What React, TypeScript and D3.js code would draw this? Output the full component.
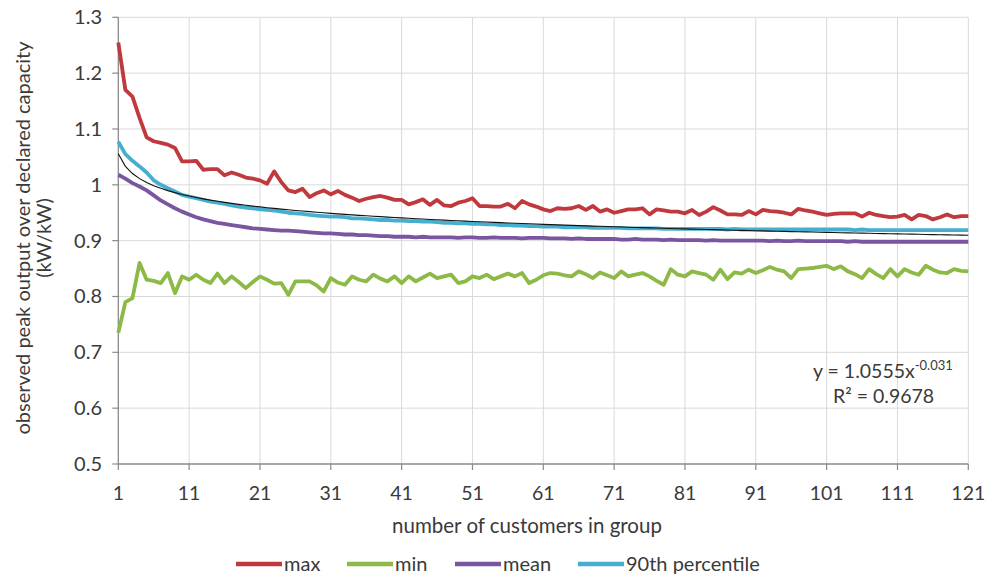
import React from "react";
import * as d3 from "d3";

const categories: number[] = d3.range(1, 122);

const maxSeries: number[] = [
  1.255, 1.17, 1.158, 1.12, 1.085, 1.078, 1.075, 1.072, 1.066, 1.042,
  1.042, 1.043, 1.027, 1.028, 1.028, 1.017, 1.022, 1.018, 1.013, 1.011,
  1.008, 1.002, 1.024, 1.005, 0.99, 0.987, 0.993, 0.978, 0.985, 0.99,
  0.983, 0.989, 0.982, 0.977, 0.971, 0.975, 0.978, 0.98, 0.977, 0.973,
  0.973, 0.965, 0.969, 0.974, 0.964, 0.973, 0.963, 0.962, 0.968, 0.971,
  0.976, 0.962, 0.962, 0.961, 0.961, 0.966, 0.958, 0.971, 0.965, 0.961,
  0.956, 0.953, 0.958, 0.957, 0.958, 0.962, 0.955, 0.962, 0.952, 0.956,
  0.95, 0.953, 0.956, 0.956, 0.958, 0.947, 0.956, 0.954, 0.952, 0.952,
  0.949, 0.955, 0.946, 0.952, 0.96, 0.954, 0.947, 0.947, 0.946, 0.953,
  0.947, 0.955, 0.953, 0.952, 0.95, 0.947, 0.957, 0.954, 0.952, 0.949,
  0.946, 0.948, 0.949, 0.949, 0.949, 0.943, 0.95, 0.946, 0.944, 0.942,
  0.943, 0.946, 0.938, 0.946, 0.944, 0.938, 0.942, 0.947, 0.942, 0.944,
  0.944,
];

const minSeries: number[] = [
  0.735, 0.79, 0.797, 0.86, 0.83, 0.828, 0.824, 0.842, 0.806, 0.836,
  0.83, 0.839, 0.83, 0.824, 0.841, 0.824, 0.836, 0.826, 0.815, 0.826,
  0.836, 0.83, 0.823, 0.824, 0.803, 0.827, 0.827, 0.827, 0.82, 0.809,
  0.833, 0.825, 0.821, 0.836, 0.83, 0.827, 0.839, 0.832, 0.827, 0.836,
  0.824, 0.836, 0.827, 0.834, 0.841, 0.833, 0.836, 0.839, 0.824, 0.827,
  0.836, 0.833, 0.839, 0.831, 0.836, 0.841, 0.836, 0.842, 0.824, 0.83,
  0.838, 0.842, 0.841, 0.838, 0.836, 0.845, 0.84, 0.833, 0.843, 0.838,
  0.833, 0.845, 0.836, 0.839, 0.842, 0.836, 0.828, 0.821, 0.849, 0.839,
  0.836, 0.845, 0.842, 0.839, 0.83, 0.848, 0.831, 0.843, 0.841, 0.848,
  0.842, 0.847, 0.853, 0.848, 0.845, 0.833, 0.849, 0.85, 0.851, 0.853,
  0.855, 0.849, 0.854, 0.845, 0.84, 0.833, 0.849, 0.84, 0.833, 0.849,
  0.836, 0.849, 0.843, 0.839, 0.855, 0.848, 0.843, 0.842, 0.849, 0.846,
  0.845,
];

const meanSeries: number[] = [
  1.018, 1.011, 1.003, 0.997, 0.99, 0.981, 0.972, 0.965, 0.958, 0.952,
  0.947, 0.942, 0.938, 0.935, 0.932, 0.93, 0.928, 0.926, 0.924, 0.922,
  0.921, 0.92, 0.919, 0.918, 0.918, 0.917, 0.916, 0.915, 0.914, 0.913,
  0.913, 0.912, 0.911, 0.911, 0.91, 0.91, 0.909, 0.908, 0.908, 0.907,
  0.907, 0.907, 0.906, 0.907, 0.906, 0.906, 0.906, 0.906, 0.905, 0.906,
  0.906, 0.905, 0.905, 0.906, 0.905, 0.905, 0.905, 0.904, 0.905, 0.905,
  0.905, 0.904, 0.904, 0.904, 0.903, 0.904, 0.903, 0.903, 0.903, 0.903,
  0.903, 0.902, 0.902, 0.903, 0.902, 0.902, 0.902, 0.901, 0.902, 0.901,
  0.901, 0.901, 0.901, 0.9, 0.901, 0.9, 0.9, 0.9, 0.9, 0.9,
  0.9, 0.9, 0.899, 0.9, 0.899, 0.899, 0.9, 0.899, 0.899, 0.899,
  0.899, 0.899, 0.899, 0.898, 0.899, 0.898, 0.898, 0.898, 0.898, 0.898,
  0.898, 0.898, 0.898, 0.898, 0.898, 0.898, 0.898, 0.898, 0.898, 0.898,
  0.898,
];

const p90Series: number[] = [
  1.077, 1.055, 1.043, 1.033, 1.022, 1.008, 1.0, 0.994, 0.988, 0.982,
  0.979, 0.976, 0.973, 0.97, 0.968, 0.966, 0.963, 0.961, 0.959, 0.958,
  0.956, 0.955, 0.954, 0.952, 0.95, 0.949, 0.948, 0.946, 0.945, 0.944,
  0.943, 0.943, 0.942, 0.94, 0.94, 0.939, 0.938, 0.937, 0.937, 0.936,
  0.936, 0.935, 0.935, 0.934, 0.934, 0.933, 0.932, 0.932, 0.931, 0.931,
  0.93, 0.93, 0.929, 0.929, 0.928, 0.928, 0.927, 0.927, 0.926, 0.926,
  0.925, 0.925, 0.925, 0.924, 0.924, 0.924, 0.924, 0.923, 0.923, 0.923,
  0.923, 0.923, 0.922, 0.922, 0.922, 0.922, 0.922, 0.921, 0.921, 0.921,
  0.921, 0.921, 0.921, 0.921, 0.921, 0.921, 0.92, 0.921, 0.92, 0.92,
  0.92, 0.92, 0.92, 0.92, 0.92, 0.92, 0.92, 0.92, 0.92, 0.92,
  0.92, 0.92, 0.92, 0.92, 0.919, 0.92, 0.919, 0.919, 0.919, 0.919,
  0.919, 0.919, 0.919, 0.919, 0.919, 0.919, 0.919, 0.919, 0.919, 0.919,
  0.919,
];

// Power trendline y = a * x^b (as printed on the chart)
const trendA = 1.0555;
const trendB = -0.031;

const xTicks: number[] = [1, 11, 21, 31, 41, 51, 61, 71, 81, 91, 101, 111, 121];
const yTicks: number[] = [0.5, 0.6, 0.7, 0.8, 0.9, 1.0, 1.1, 1.2, 1.3];
const yTickLabels: string[] = ["0.5", "0.6", "0.7", "0.8", "0.9", "1", "1.1", "1.2", "1.3"];

const seriesNames: string[] = ["max", "min", "mean", "90th percentile"];
const seriesColors: string[] = ["#C0393F", "#8DB946", "#7A55A0", "#46AFCF"];

const FONT = "Lato, 'Open Sans', sans-serif";
const TEXT = "#3a3a3a";

export default function App() {
  const W = 992, H = 581;
  const x = d3.scaleLinear().domain([1, 121]).range([118.3, 968.3]);
  const y = d3.scaleLinear().domain([0.5, 1.3]).range([464, 17.3]);
  const allSeries = [maxSeries, minSeries, meanSeries, p90Series];
  const line = d3
    .line<number>()
    .x((_, i) => x(categories[i]))
    .y((d) => y(d))
    .curve(d3.curveLinear);
  const trendData = categories.map((c) => trendA * Math.pow(c, trendB));

  const legendX = [236, 347, 455, 578];

  return (
    <div style={{ position: "absolute", left: 0, top: 0 }}>
      <svg width={W} height={H} style={{ display: "block", background: "#fff" }}>
        {/* grid */}
        {yTicks.slice(1).map((t) => (
          <line key={"gy" + t} x1={x(1)} x2={x(121)} y1={y(t)} y2={y(t)} stroke="#d9d9d9" strokeWidth={1} />
        ))}
        {xTicks.slice(1).map((t) => (
          <line key={"gx" + t} x1={x(t)} x2={x(t)} y1={y(1.3)} y2={y(0.5)} stroke="#d9d9d9" strokeWidth={1} />
        ))}
        {/* axes */}
        <line x1={x(1)} x2={x(1)} y1={y(1.3)} y2={y(0.5)} stroke="#8a8a8a" strokeWidth={1.3} />
        <line x1={x(1)} x2={x(121)} y1={y(0.5)} y2={y(0.5)} stroke="#8a8a8a" strokeWidth={1.3} />
        {yTicks.map((t) => (
          <line key={"ty" + t} x1={x(1) - 6} x2={x(1)} y1={y(t)} y2={y(t)} stroke="#8a8a8a" strokeWidth={1.2} />
        ))}
        {xTicks.map((t) => (
          <line key={"tx" + t} x1={x(t)} x2={x(t)} y1={y(0.5)} y2={y(0.5) + 6} stroke="#8a8a8a" strokeWidth={1.2} />
        ))}
        {/* tick labels */}
        {yTicks.map((t, i) => (
          <text key={"ly" + t} x={102} y={y(t)} dy="0.35em" textAnchor="end" fontFamily={FONT} fontSize={20} fill={TEXT}>
            {yTickLabels[i]}
          </text>
        ))}
        {xTicks.map((t) => (
          <text key={"lx" + t} x={x(t)} y={500} textAnchor="middle" fontFamily={FONT} fontSize={19.5} fill={TEXT}>
            {t}
          </text>
        ))}
        {/* axis titles */}
        <text x={527} y={533} textAnchor="middle" fontFamily={FONT} fontSize={20.5} fill={TEXT}>
          number of customers in group
        </text>
        <g transform="translate(30,238) rotate(-90)">
          <text x={0} y={0} textAnchor="middle" fontFamily={FONT} fontSize={20} fill={TEXT}>
            observed peak output over declared capacity
          </text>
          <text x={0} y={21} textAnchor="middle" fontFamily={FONT} fontSize={20} fill={TEXT}>
            (kW/kW)
          </text>
        </g>
        {/* series */}
        {allSeries.map((s, i) => (
          <path key={"s" + i} d={line(s) || ""} fill="none" stroke={seriesColors[i]} strokeWidth={3.8} strokeLinejoin="round" />
        ))}
        <path d={line(trendData) || ""} fill="none" stroke="#111" strokeWidth={1.1} />
        {/* equation */}
        <text x={813} y={378} fontFamily={FONT} fontSize={19.5} fill={TEXT}>
          y = 1.0555x
          <tspan dy={-8} fontSize={13}>-0.031</tspan>
        </text>
        <text x={833} y={403} fontFamily={FONT} fontSize={19.5} fill={TEXT}>
          R² = 0.9678
        </text>
        {/* legend */}
        {seriesNames.map((n, i) => (
          <g key={"lg" + i}>
            <line x1={legendX[i]} x2={legendX[i] + 46} y1={564} y2={564} stroke={seriesColors[i]} strokeWidth={4.5} />
            <text x={legendX[i] + 48} y={564} dy="0.35em" fontFamily={FONT} fontSize={20} fill={TEXT}>
              {n}
            </text>
          </g>
        ))}
      </svg>
    </div>
  );
}
